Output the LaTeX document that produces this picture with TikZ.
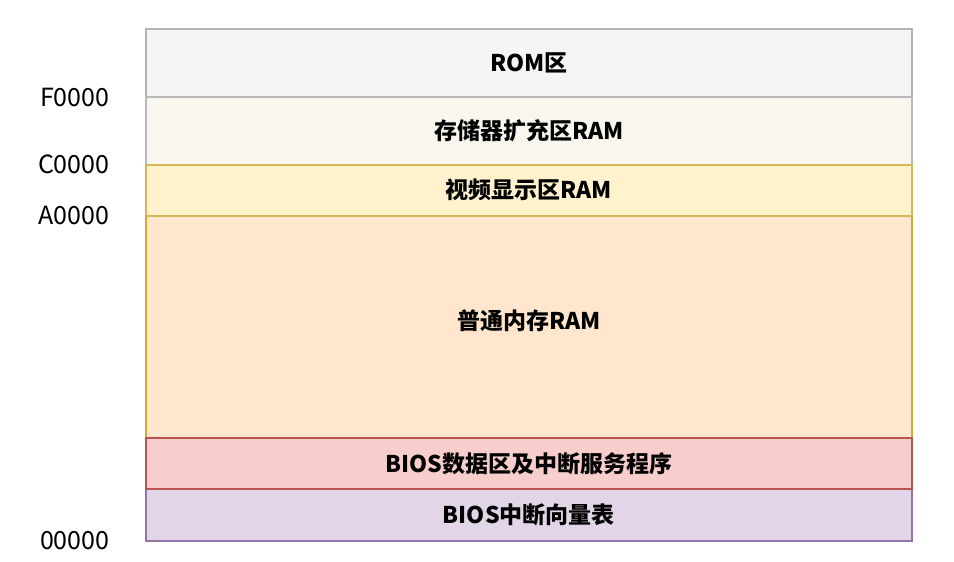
\documentclass[tikz,border=0pt]{standalone}
\usepackage{fontspec}
\setmainfont{Noto Sans CJK SC}
\begin{document}
\begin{tikzpicture}[x=1pt,y=-1pt,
  seg/.style={draw, line width=1.6pt, minimum width=766pt, inner sep=0pt, anchor=north west, font=\fontsize{23}{24}\selectfont\bfseries},
  addr/.style={anchor=east, font=\fontsize{25}{26}\selectfont}]
\useasboundingbox[fill=white] (0,0) rectangle (954,562);
\definecolor{romF}{HTML}{F5F5F5}\definecolor{romS}{HTML}{B3B3B3}
\definecolor{extF}{HTML}{F9F7ED}\definecolor{extS}{HTML}{B8B8B8}
\definecolor{vidF}{HTML}{FFF2CC}\definecolor{vidS}{HTML}{D6B656}
\definecolor{ramF}{HTML}{FFE6CC}\definecolor{ramS}{HTML}{D7A830}
\definecolor{bdF}{HTML}{F8CECC}\definecolor{bdS}{HTML}{B85450}
\definecolor{ivF}{HTML}{E1D5E7}\definecolor{ivS}{HTML}{9673A6}
\node[seg, fill=romF, draw=romS, minimum height=68pt] (rom) at (145,28) {ROM区};
\node[seg, fill=extF, draw=extS, minimum height=68pt] (ext) at (145,96) {存储器扩充区RAM};
\node[seg, fill=ramF, draw=ramS, minimum height=222pt] (ram) at (145,215) {};
\node (ramlabel) at ([yshift=6pt]ram.center) {\fontsize{23}{24}\selectfont\bfseries 普通内存RAM};
\node[seg, fill=vidF, draw=vidS, minimum height=51pt] (vid) at (145,164) {视频显示区RAM};
\node[seg, fill=ivF, draw=ivS, minimum height=52pt] (ivt) at (145,488) {BIOS中断向量表};
\node[seg, fill=bdF, draw=bdS, minimum height=51pt] (bd) at (145,437) {BIOS数据区及中断服务程序};
\node[addr] (aF) at (113,97) {F0000};
\node[addr] (aC) at (113,164) {C0000};
\node[addr] (aA) at (113,215) {A0000};
\node[addr] (a0) at (113,541) {00000};
\end{tikzpicture}
\end{document}
